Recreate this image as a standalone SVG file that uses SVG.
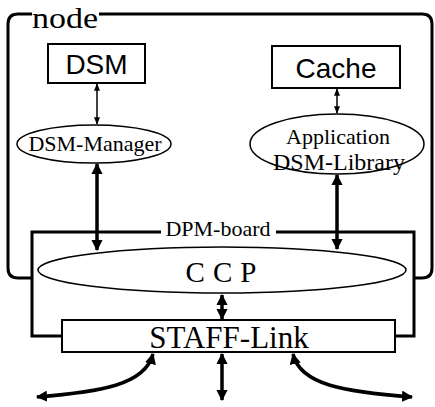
<svg xmlns="http://www.w3.org/2000/svg" width="435" height="407" viewBox="0 0 435 407">
<style>
.frame{fill:none;stroke:#000;stroke-width:3}
.box{fill:#fff;stroke:#000;stroke-width:2}
.ell{fill:#fff;stroke:#000;stroke-width:1.5}
.sans{font-family:"Liberation Sans",Arial,sans-serif;fill:#000}
.serif{font-family:"Liberation Serif","Times New Roman",serif;fill:#000}
.thin{stroke:#000;stroke-width:1.5;fill:none}
.thick{stroke:#000;stroke-width:3.5;fill:none}
</style>
<defs>
<marker id="ah" viewBox="0 0 10 10" refX="9" refY="5" markerWidth="3.2" markerHeight="3.2" orient="auto-start-reverse" markerUnits="strokeWidth">
<path d="M0,0 L10,5 L0,10 z" fill="#000"/>
</marker>
<marker id="as" viewBox="0 0 10 10" refX="9" refY="5" markerWidth="5" markerHeight="5" orient="auto-start-reverse" markerUnits="strokeWidth">
<path d="M0,1 L10,5 L0,9 z" fill="#000"/>
</marker>
</defs>
<g id="node-frame">
<path class="frame" d="M32,14 L18,14 Q8,14 8,24 L8,268 Q8,278 18,278 L32,278"/>
<path class="frame" d="M99,14 L422,14 Q432,14 432,24 L432,268 Q432,278 422,278 L414,278"/>
<text class="serif" x="32" y="28" font-size="30" textLength="66" lengthAdjust="spacingAndGlyphs">node</text>
</g>
<g id="dpm-board">
<path class="frame" d="M161,232 L32,232 L32,336 L62,336"/>
<path class="frame" d="M276,232 L414,232 L414,336 L395,336"/>
<text class="serif" x="218" y="236" font-size="22" text-anchor="middle">DPM-board</text>
</g>
<g id="dsm">
<rect class="box" x="48" y="44" width="97" height="39"/>
<text class="sans" x="96.5" y="74" font-size="28" text-anchor="middle">DSM</text>
</g>
<g id="cache">
<rect class="box" x="272" y="46" width="128" height="42"/>
<text class="sans" x="336" y="78" font-size="28" text-anchor="middle">Cache</text>
</g>
<g id="dsm-manager">
<ellipse class="ell" cx="94" cy="144" rx="77" ry="19"/>
<text class="serif" x="95" y="151" font-size="22" text-anchor="middle">DSM-Manager</text>
</g>
<g id="dsm-library">
<ellipse class="ell" cx="337" cy="144" rx="87" ry="30"/>
<text class="serif" x="338" y="144" font-size="22" text-anchor="middle">Application</text>
<text class="serif" x="339" y="170" font-size="24" text-anchor="middle">DSM-Library</text>
</g>
<g id="ccp">
<ellipse class="ell" cx="222" cy="270" rx="184" ry="23"/>
<text class="serif" x="225" y="282" font-size="29" text-anchor="middle" letter-spacing="8">CCP</text>
</g>
<g id="staff-link">
<rect class="box" x="62" y="320" width="333" height="32"/>
<text class="serif" x="229" y="348" font-size="31" text-anchor="middle">STAFF-Link</text>
</g>
<g id="connectors">
<line class="thin" x1="97" y1="84" x2="97" y2="124" marker-start="url(#as)" marker-end="url(#as)"/>
<line class="thin" x1="337" y1="89" x2="337" y2="113" marker-start="url(#as)" marker-end="url(#as)"/>
<line class="thick" x1="97" y1="164" x2="97" y2="250" marker-start="url(#ah)" marker-end="url(#ah)"/>
<line class="thick" x1="337" y1="175" x2="337" y2="249" marker-start="url(#ah)" marker-end="url(#ah)"/>
<line class="thick" x1="222" y1="295" x2="222" y2="319" marker-start="url(#ah)" marker-end="url(#ah)"/>
<line class="thick" x1="222" y1="354" x2="222" y2="400" marker-start="url(#ah)" marker-end="url(#ah)"/>
<path class="thick" d="M153,354 C145,385 100,392 37,397" marker-start="url(#ah)" marker-end="url(#ah)"/>
<path class="thick" d="M293,354 C300,385 345,392 412,397" marker-start="url(#ah)" marker-end="url(#ah)"/>
</g>
</svg>
